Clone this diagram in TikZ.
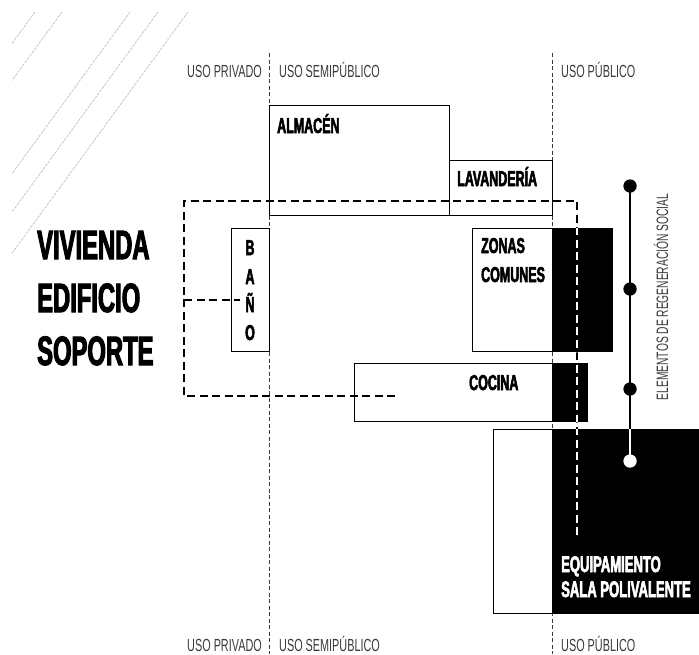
\documentclass[tikz,border=0pt]{standalone}
\usepackage{fontspec}
\usepackage{xcolor}
\usepackage{tikz}
\usetikzlibrary{positioning,calc}
\setmainfont{Liberation Sans}
\newfontfamily\headfont[FakeStretch=0.58,FakeBold=2.5]{Liberation Sans Bold}
\newfontfamily\usofont[FakeStretch=0.62]{Liberation Sans}
\definecolor{uso}{RGB}{58,58,58}
\definecolor{rayado}{RGB}{175,175,175}

\begin{document}
\begin{tikzpicture}[
  x=1pt,y=-1pt,
  caja/.style={draw,line width=1.3pt,inner sep=0pt,anchor=north west},
  tit/.style={font=\headfont\fontsize{21.5}{21.5}\selectfont,inner sep=0pt,anchor=base west},
  grande/.style={font=\headfont\fontsize{41}{41}\selectfont,inner sep=0pt,anchor=base west},
  usol/.style={font=\usofont\fontsize{17.5}{17.5}\selectfont,text=uso,inner sep=0pt,anchor=base west},
  limite/.style={dash pattern=on 4pt off 2.5pt,line width=0.6pt,uso},
  recorrido/.style={dash pattern=on 8pt off 4.5pt,line width=1.6pt},
  social/.style={line width=2.6pt},
  punto/.style={circle,fill,inner sep=0pt,minimum size=13pt}
]
\useasboundingbox (0,0) rectangle (699,654);
\foreach \xt in {35,62,130,158,188}
  \draw[rayado,line width=0.5pt,dash pattern=on 3pt off 1pt] (\xt,12) -- (12,{12+1.37*(\xt-12)});

\coordinate (privT) at (269,53); \coordinate (privB) at (269,654);
\coordinate (pubT) at (552,53); \coordinate (pubB) at (552,654);
\draw[limite] (privT) -- (privB);
\draw[limite] (pubT) -- (pubB);

\node[caja,minimum width=180pt,minimum height=110pt] (almacen) at (269,105) {};
\node[caja,minimum width=103pt,minimum height=55pt] (lavanderia) at (449,160) {};
\node[caja,minimum width=38pt,minimum height=123pt] (bano) at (231,228) {};
\node[caja,minimum width=140pt,minimum height=123pt] (zonas) at (472,228) {};
\node[caja,minimum width=233pt,minimum height=58pt] (cocina) at (354,363) {};
\node[caja,minimum width=230pt,minimum height=184pt] (equipo) at (493,429) {};
\fill (552,228) rectangle (zonas.south east);
\fill (552,363) rectangle (cocina.south east);
\fill (552,429) rectangle (equipo.south east);

\coordinate (rA) at (395,396); \coordinate (rB) at (184,396); \coordinate (rC) at (184,201);
\coordinate (rD) at (577,201); \coordinate (rE) at (577,538);
\coordinate (rF) at (184,300); \coordinate (rG) at (240,300);
\draw[recorrido] (rA) -- (rB) -- (rC) -- (rD) -- (rE);
\draw[recorrido] (rF) -- (rG);
\begin{scope}
  \clip (552,228) rectangle (zonas.south east) (552,363) rectangle (cocina.south east) (552,429) rectangle (equipo.south east);
  \draw[recorrido,white] (rA) -- (rB) -- (rC) -- (rD) -- (rE);
\end{scope}

\node[punto] (s1) at (630,186) {};
\node[punto] (s2) at (630,289) {};
\node[punto] (s3) at (630,389) {};
\node[punto,white] (s4) at (630,461) {};
\draw[social] (s1.center) -- (s4.center);
\begin{scope}
  \clip (552,429) rectangle (equipo.south east);
  \draw[social,white] (s1.center) -- (s4.center);
\end{scope}
\node[punto] at (s1) {};
\node[punto] at (s2) {};
\node[punto] at (s3) {};
\node[punto,white] at (s4) {};

\node[tit] (talm) at (277,133) {ALMACÉN};
\node[tit] (tlav) at (457,186) {LAVANDERÍA};
\node[tit] (tzon) at (481,253) {ZONAS};
\node[tit] (tcom) at (481,282) {COMUNES};
\node[tit] (tcoc) at (469,390) {COCINA};
\foreach \l/\yb in {B/255,A/284,Ñ/312,O/340}
  \node[tit,anchor=base] at (250,\yb) {\l};
\node[tit,text=white,font=\headfont\fontsize{22.5}{22.5}\selectfont] (tequ) at (561,572) {EQUIPAMIENTO};
\node[tit,text=white,font=\headfont\fontsize{22.5}{22.5}\selectfont] (tsal) at (561,597) {SALA POLIVALENTE};

\node[grande] (viv) at (37,259) {VIVIENDA};
\node[grande] (edi) at (37,312) {EDIFICIO};
\node[grande] (sop) at (37,365) {SOPORTE};

\node[usol,anchor=base east] (privS) at (262,77) {USO PRIVADO};
\node[usol] (semiS) at (279,77) {USO SEMIPÚBLICO};
\node[usol] (pubS) at (561,77) {USO PÚBLICO};
\node[usol,anchor=base east] (privI) at (262,651) {USO PRIVADO};
\node[usol] (semiI) at (279,651) {USO SEMIPÚBLICO};
\node[usol] (pubI) at (561,651) {USO PÚBLICO};
\node[usol,anchor=center,rotate=90,font=\usofont\fontsize{16.5}{16.5}\selectfont] (eleS) at (661,297) {ELEMENTOS DE REGENERACIÓN SOCIAL};
\end{tikzpicture}
\end{document}
